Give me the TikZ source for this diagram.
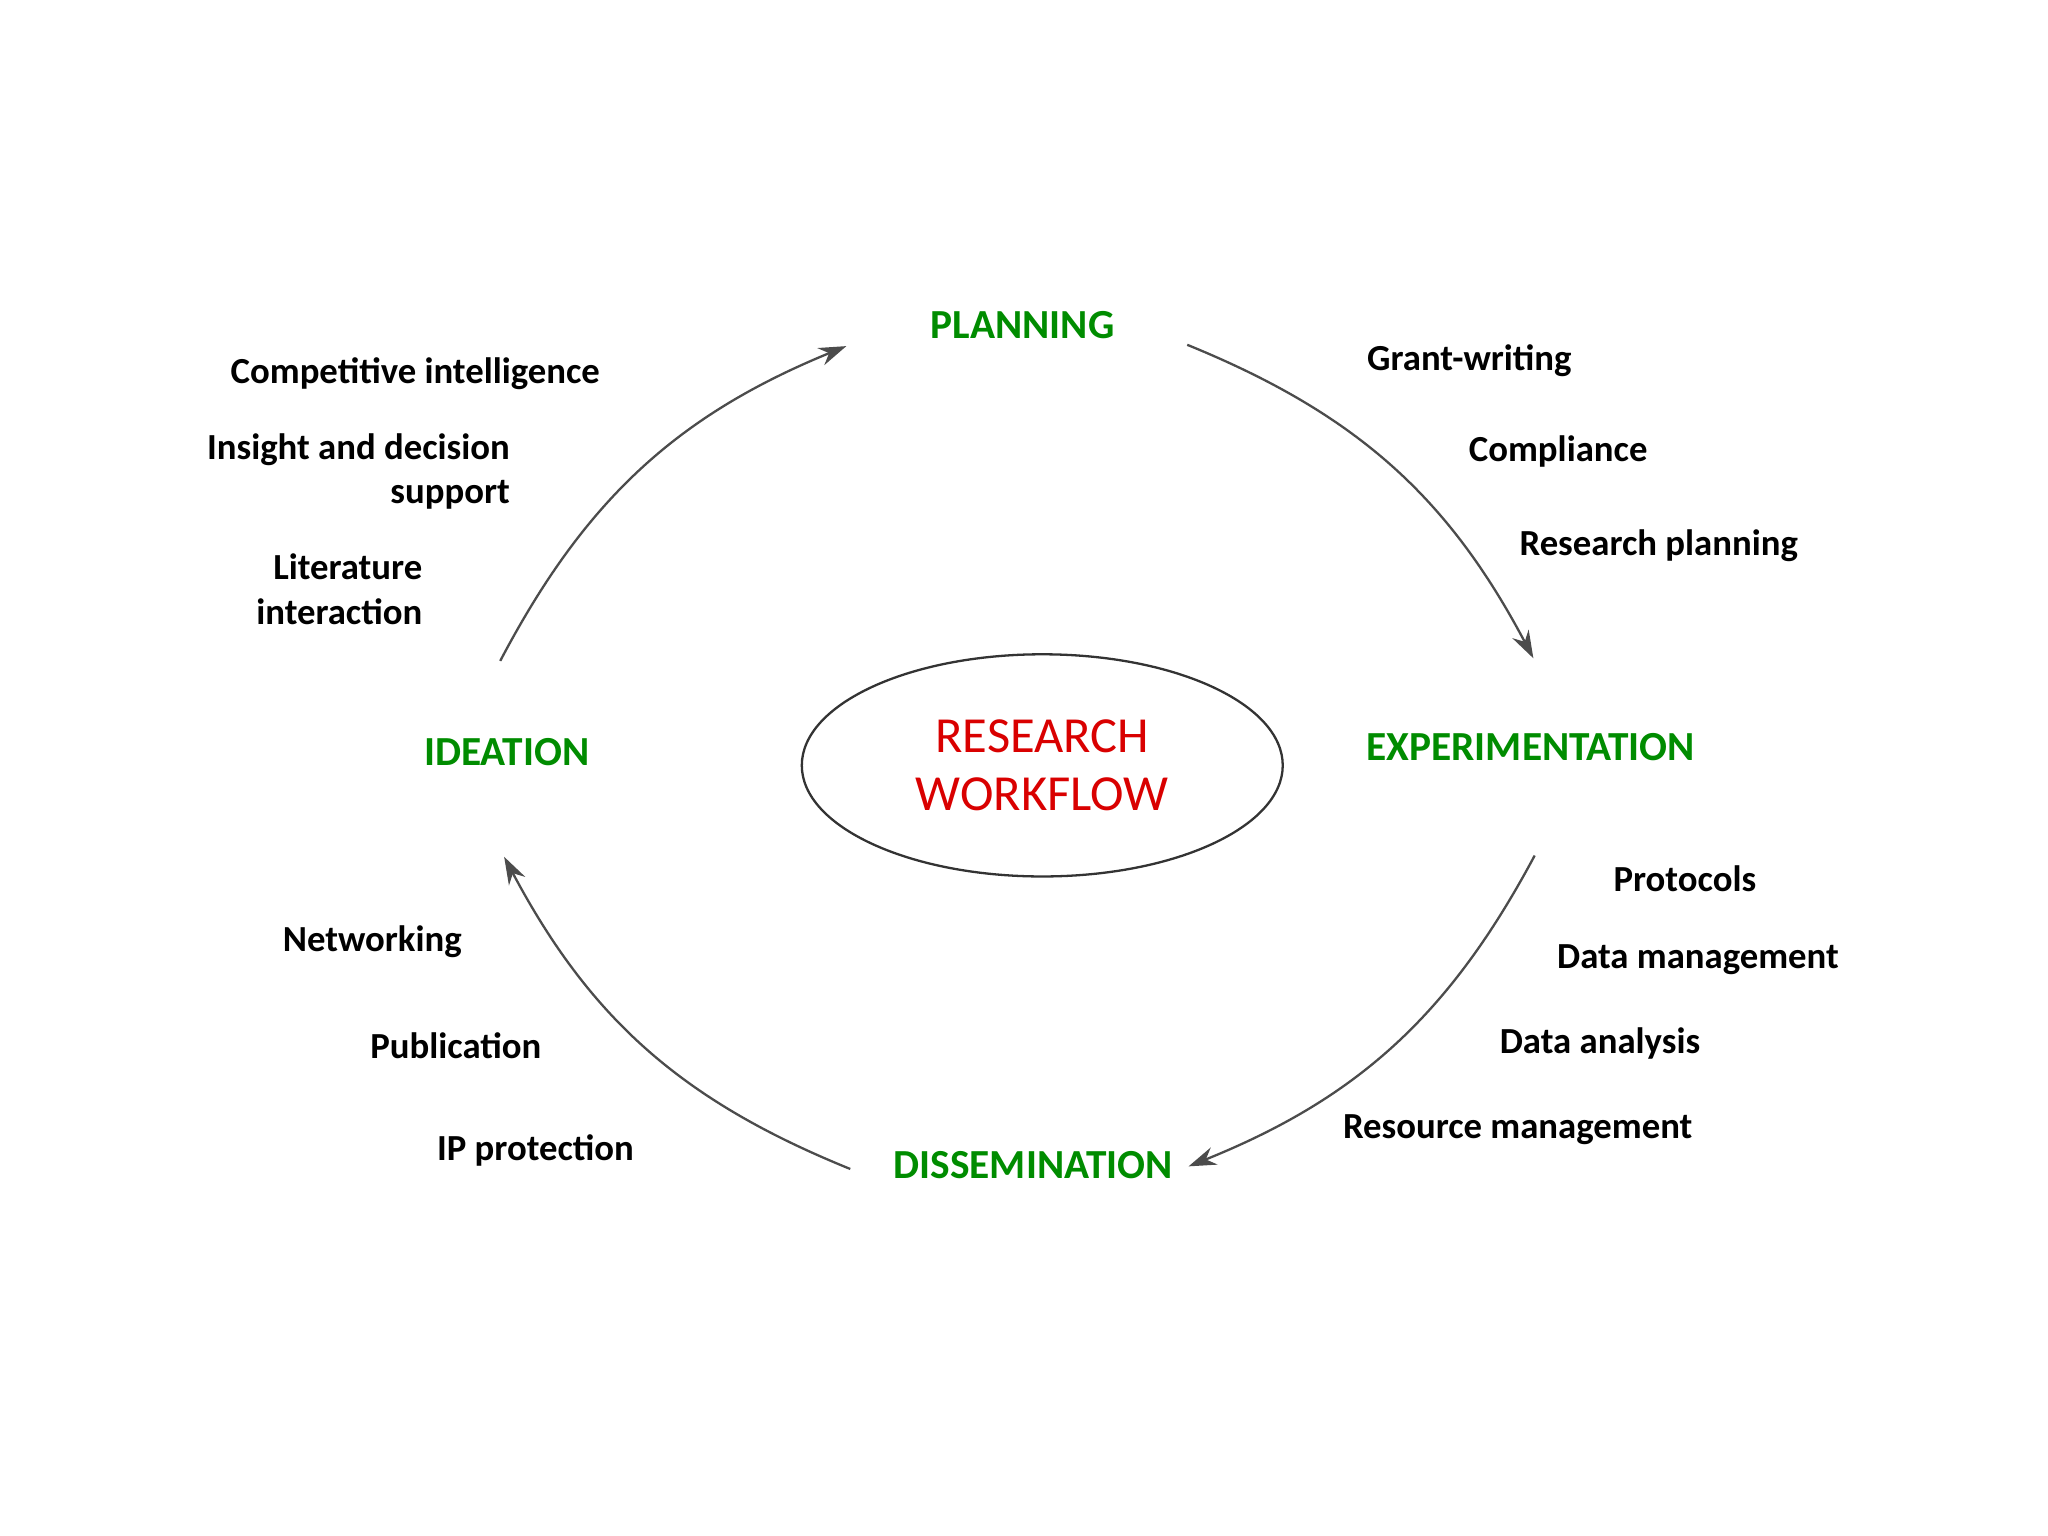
\documentclass[tikz,border=0pt]{standalone}
\usepackage{fontspec}
\setmainfont{Carlito}
\usetikzlibrary{arrows.meta,shapes.geometric}
\tikzset{
  phase/.style={font=\bfseries\fontsize{9}{11}\selectfont, text=green!55!black},
  task/.style={font=\bfseries\fontsize{8}{9.7}\selectfont, align=right},
  cycle/.style={draw=black!70, line width=0.5pt, -{Stealth[length=6pt,width=4pt]}}
}
\begin{document}
\begin{tikzpicture}[x=0.01cm,y=-0.01cm]
\useasboundingbox (0,0) rectangle (1568,1176);
% centre
\node[draw=black!80, line width=0.5pt, ellipse, minimum width=3.68cm, minimum height=1.7cm, inner sep=0,
  text=red!85!black, align=center, font=\fontsize{11}{12.6}\selectfont] (hub) at (798,586) {RESEARCH\\WORKFLOW};
% phases
\node[phase] (plan) at (783,249) {PLANNING};
\node[phase] (exper) at (1172,572) {EXPERIMENTATION};
\node[phase] (dissem) at (791,892) {DISSEMINATION};
\node[phase] (idea) at (388,576) {IDEATION};
% arrow ends
\coordinate (a1) at (383,506); \coordinate (a2) at (648,265);
\coordinate (b1) at (909,264); \coordinate (b2) at (1174,504);
\coordinate (c1) at (1175,655); \coordinate (c2) at (910,893);
\coordinate (d1) at (651,895); \coordinate (d2) at (386,656);
\draw[cycle] (a1) to[bend left=20] (a2);
\draw[cycle] (b1) to[bend left=20] (b2);
\draw[cycle] (c1) to[bend left=20] (c2);
\draw[cycle] (d1) to[bend left=20] (d2);
% tasks
\node[task] (comp) at (318,286) {Competitive intelligence};
\node[task, anchor=east, inner xsep=0] (insight) at (391,361) {Insight and decision\\support};
\node[task, anchor=east, inner xsep=0] (lit) at (324,451) {Literature\\interaction};
\node[task] (grant) at (1125,276) {Grant-writing};
\node[task] (compl) at (1193,346) {Compliance};
\node[task] (rplan) at (1270,418) {Research planning};
\node[task] (proto) at (1290,673) {Protocols};
\node[task] (dman) at (1300,735) {Data management};
\node[task] (dana) at (1225,799) {Data analysis};
\node[task] (rman) at (1162,865) {Resource management};
\node[task] (net) at (285,721) {Networking};
\node[task] (pub) at (349,801) {Publication};
\node[task] (ip) at (410,881) {IP protection};
\end{tikzpicture}
\end{document}
